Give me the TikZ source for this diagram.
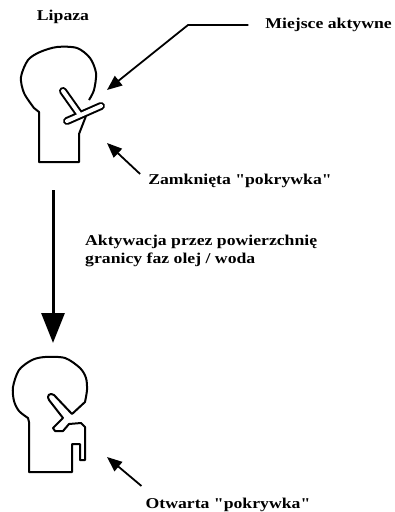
\documentclass[tikz,border=0pt]{standalone}
\usepackage{fontspec}
\setmainfont{Liberation Serif}[FakeStretch=1.18, Ligatures=TeXOff]
\usetikzlibrary{arrows.meta}

\begin{document}
\begin{tikzpicture}[x=1pt,y=-1pt,
	tag node/.style={font=\bfseries\fontsize{15}{18}\selectfont, inner sep=0pt},
	pointer/.style={-{Triangle[length=15pt,width=12pt]}, line width=1.8pt},
	outline/.style={line width=2pt, line join=round}]

	\useasboundingbox (0,0) rectangle (395,512);

	% lipase with the lid closed
	\draw[outline] plot[smooth] coordinates {(89,100) (94,90) (96,73) (90,58) (77,48) (57,47) (40,52) (28,60) (21,77) (24,93) (34,108)}
		-- (39,112) -- (39,162) -- (79,162) -- (79,134) -- (86,116);
	\draw[line width=8pt, line cap=round] (63,91) -- (80,115) (67,121) -- (101,106);
	\draw[white, line width=4pt, line cap=round] (63,91) -- (80,115) (67,121) -- (101,106);

	% lipase with the lid open
	\draw[outline] plot[smooth] coordinates {(85,402) (87,390) (86,378) (80,368) (65,358) (45,357) (32,360) (19,370) (13,387) (14,401) (19,411) (28,418)}
		-- (29,422) -- (29,472) -- (72,472) -- (72,444) -- (80,444) -- (80,460) -- (85,460) -- (85,427)
		-- (81,423) -- (69,424) -- (63,431) -- (55,431) -- (53,428) -- (63,418) -- (49,400)
		.. controls (46,396) and (50,392) .. (54,395) -- (72,414) -- cycle;

	\coordinate (site bend) at (188,25);
	\coordinate (site) at (107,90);
	\coordinate (lid closed) at (107,143);
	\coordinate (lid open) at (107,457);
	\coordinate (act from) at (53,190);
	\coordinate (act to) at (53,343);

	\node[tag node] (lipaza) at (63,17) {Lipaza};
	\node[tag node, anchor=east] (aktywne) at (392,25) {Miejsce aktywne};
	\node[tag node] (zamk) at (240,181) {Zamknięta "pokrywka"};
	\node[tag node, align=left, anchor=north west] (aktyw) at (85,235) {Aktywacja przez powierzchnię\\granicy faz olej / woda};
	\node[tag node] (otw) at (228,505) {Otwarta "pokrywka"};

	\draw[pointer, shorten <=17pt] (aktywne.west) -- (site bend) -- (site);
	\draw[pointer] ([xshift=-8pt]zamk.north west) -- (lid closed);
	\draw[pointer] ([xshift=-4pt,yshift=12pt]otw.north west) -- (lid open);
	\draw[line width=3pt, -{Triangle[length=30pt,width=23pt]}] (act from) -- (act to);

\end{tikzpicture}
\end{document}
